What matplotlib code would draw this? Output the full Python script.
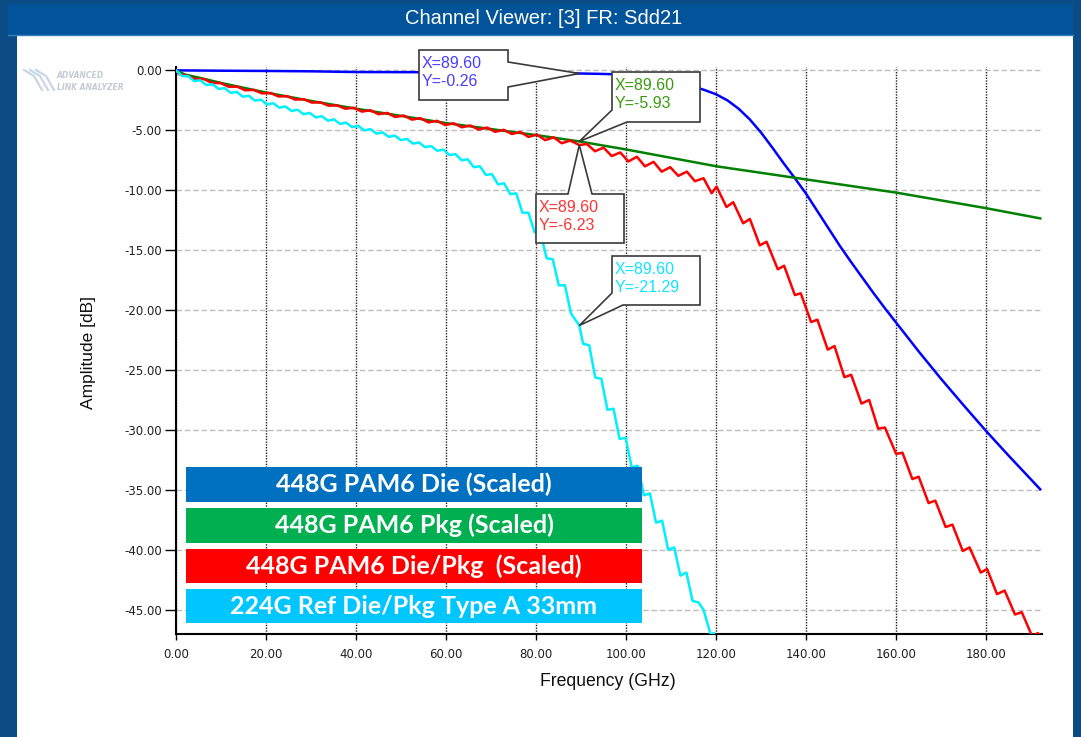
import matplotlib
matplotlib.use('Agg')
import matplotlib.pyplot as plt
from matplotlib.patches import Rectangle, Polygon
from matplotlib.lines import Line2D

W, H = 1081, 737

# Sdd21 magnitude, frequency in GHz, amplitude in dB
die_freq = [0, 10, 20, 30, 40, 50, 60, 70, 80, 89.6, 95, 100, 105, 110, 112.5,
            115, 117.5, 120, 122.5, 125, 127.5, 130, 132.5, 135, 137.5, 140,
            142.5, 145, 147.5, 150, 152.5, 155, 157.5, 160, 165, 170, 175,
            180, 185, 192]
die_db = [0, -0.03, -0.05, -0.08, -0.14, -0.15, -0.16, -0.18, -0.22, -0.26,
          -0.3, -0.36, -0.5, -0.85, -1.1, -1.35, -1.65, -2.0, -2.5, -3.2, -4.1,
          -5.2, -6.45, -7.75, -9.0, -10.3, -11.75, -13.2, -14.65, -16.0, -17.3,
          -18.6, -19.85, -21.05, -23.45, -25.75, -27.95, -30.1, -32.15, -34.95]

pkg_freq = [0, 2, 5, 10, 20, 30, 40, 50, 60, 70, 80, 89.6, 100, 110, 120,
            130, 140, 150, 160, 170, 180, 192]
pkg_db = [0, -0.35, -0.6, -1.05, -1.85, -2.55, -3.2, -3.8, -4.4, -4.9, -5.4,
          -5.93, -6.6, -7.3, -8.0, -8.55, -9.1, -9.65, -10.2, -10.85, -11.5,
          -12.35]

diepkg_freq = [0, 0.6, 2.4, 4.3, 6.2, 8.0, 9.9, 11.7, 13.6, 15.4, 17.3, 19.1,
               21.0, 22.8, 24.7, 26.5, 28.4, 30.2, 32.1, 33.9, 35.8, 37.6,
               39.5, 41.3, 43.2, 45.0, 46.9, 48.7, 50.6, 52.4, 54.3, 56.1,
               58.0, 59.8, 61.7, 63.5, 65.4, 67.2, 69.1, 70.9, 72.8, 74.6,
               76.5, 78.3, 80.2, 82.0, 83.9, 85.7, 87.6, 89.6, 91.3, 93.1,
               95.0, 96.8, 98.7, 100.5, 102.4, 104.2, 106.1, 107.9, 109.8,
               111.6, 113.5, 115.3, 117.2, 119.0, 120.1, 122.3, 123.8, 126.0,
               127.5, 129.7, 131.2, 133.7, 135.1, 137.5, 138.8, 141.1, 142.5,
               144.8, 146.3, 148.5, 150.0, 152.3, 154.0, 156.0, 157.5, 160.0,
               161.4, 163.6, 165.0, 167.2, 168.7, 171.0, 172.5, 174.8, 176.3,
               178.8, 180.2, 182.4, 184.1, 186.4, 187.9, 190.2, 191.5, 192.4]
diepkg_db = [0, -0.3, -0.45, -0.72, -0.73, -1.05, -1.06, -1.37, -1.36, -1.66,
             -1.63, -1.92, -1.89, -2.18, -2.15, -2.44, -2.41, -2.69, -2.67,
             -2.95, -2.92, -3.2, -3.12, -3.44, -3.33, -3.66, -3.55, -3.89,
             -3.77, -4.11, -3.99, -4.34, -4.21, -4.56, -4.42, -4.75, -4.6,
             -4.94, -4.77, -5.13, -4.96, -5.31, -5.14, -5.55, -5.36, -5.82,
             -5.59, -6.08, -5.86, -6.23, -6.15, -6.75, -6.45, -7.15, -6.85,
             -7.6, -7.21, -8.01, -7.63, -8.45, -8.08, -8.8, -8.45, -9.25, -9.0,
             -10.25, -9.7, -11.4, -11.0, -12.76, -12.4, -14.6, -14.3, -16.6,
             -16.3, -18.75, -18.6, -21.0, -20.8, -23.3, -23.0, -25.6, -25.4,
             -27.8, -27.5, -29.9, -29.8, -32.0, -31.9, -34.1, -33.9, -36.1,
             -35.9, -38.1, -37.9, -40.1, -39.8, -41.9, -41.6, -43.7, -43.4,
             -45.4, -45.2, -47.2, -46.95, -47.4]

ref_freq = [0, 1.35, 2.7, 4.05, 5.4, 6.75, 8.1, 9.45, 10.8, 12.15, 13.5,
            14.85, 16.2, 17.55, 18.9, 20.25, 21.6, 22.95, 24.3, 25.65, 27.0,
            28.35, 29.7, 31.05, 32.4, 33.75, 35.1, 36.45, 37.8, 39.15, 40.5,
            41.85, 43.2, 44.55, 45.9, 47.25, 48.6, 49.95, 51.3, 52.65, 54.0,
            55.35, 56.7, 58.05, 59.4, 60.75, 62.1, 63.45, 64.8, 66.15, 67.5,
            68.85, 70.2, 71.55, 72.9, 74.25, 75.6, 76.95, 78.3, 79.65, 81.0,
            82.35, 83.7, 85.05, 86.4, 87.75, 89.6, 90.45, 91.8, 93.15, 94.5,
            95.85, 97.2, 98.55, 99.9, 101.25, 102.6, 103.95, 105.3, 106.65,
            108.0, 109.35, 110.7, 112.05, 113.4, 114.75, 116.1, 117.2, 118.8,
            119.5, 120.5]
ref_db = [0, -0.47, -0.49, -0.89, -0.83, -1.23, -1.15, -1.55, -1.48, -1.88,
          -1.8, -2.2, -2.12, -2.53, -2.45, -2.85, -2.74, -3.12, -3.01, -3.39,
          -3.28, -3.66, -3.55, -3.93, -3.82, -4.2, -4.09, -4.47, -4.36, -4.74,
          -4.63, -5.01, -4.9, -5.28, -5.17, -5.55, -5.44, -5.82, -5.72, -6.11,
          -6.02, -6.41, -6.32, -6.71, -6.61, -7.07, -6.99, -7.5, -7.42, -8.08,
          -8.0, -8.72, -8.66, -9.52, -9.42, -10.33, -10.26, -11.87, -11.88,
          -13.49, -13.6, -15.68, -15.76, -17.94, -17.92, -20.28, -21.29,
          -22.82, -22.93, -25.63, -25.73, -28.32, -28.23, -30.75, -30.66,
          -33.13, -32.99, -35.45, -35.3, -37.74, -37.57, -40.0, -39.8, -42.15,
          -41.9, -44.26, -44.4, -45.0, -47.1, -46.95, -48.5]

marker_freq = 89.6

legend_labels = ['448G PAM6 Die (Scaled)', '448G PAM6 Pkg (Scaled)',
                 '448G PAM6 Die/Pkg  (Scaled)', '224G Ref Die/Pkg Type A 33mm']

x_ticks = [0, 20, 40, 60, 80, 100, 120, 140, 160, 180]
y_ticks = [0, -5, -10, -15, -20, -25, -30, -35, -40, -45]


def fp(x, y):
    # pixel position (origin top-left) -> figure fraction
    return (x / W, 1 - y / H)


fig = plt.figure(figsize=(W / 100, H / 100), dpi=100, facecolor='#0B4C86')

# window chrome, kept behind the axes
fig.add_artist(Rectangle(fp(8, 35), 1065 / W, 31 / H, transform=fig.transFigure,
                         facecolor='#01549A', edgecolor='none', zorder=-5))
fig.add_artist(Line2D([8 / W, 1073 / W], [1 - 35 / H] * 2, transform=fig.transFigure,
                      color='#3C7DBA', lw=1, zorder=-4))
fig.add_artist(Rectangle(fp(17, 737), 1056 / W, 701 / H, transform=fig.transFigure,
                         facecolor='white', edgecolor='none', zorder=-5))
fig.text(544 / W, 1 - 19 / H, 'Channel Viewer: [3] FR: Sdd21', color='white',
         fontsize=14.5, family='Liberation Sans', ha='center', va='center')

# faint logo in the corner
fig.text(57 / W, 1 - 75 / H, 'ADVANCED', color='#C5CAD3', fontsize=5.5,
         style='italic', weight='bold', va='center')
fig.text(57 / W, 1 - 87 / H, 'LINK ANALYZER', color='#C5CAD3', fontsize=5.5,
         style='italic', weight='bold', va='center')
for dx in (0, 6, 12):
    fig.add_artist(Line2D([(24 + dx) / W, (34 + dx) / W, (42 + dx) / W],
                          [1 - 70 / H, 1 - 76 / H, 1 - 90 / H],
                          transform=fig.transFigure, color='#C9D6E6', lw=1.6))

ax = fig.add_axes([176 / W, 1 - 634.3 / H, 866 / W, 567.3 / H])
ax.patch.set_alpha(0)
ax.set_xlim(0, 192.4)
ax.set_ylim(-47.05, 0.28)

ax.plot(die_freq, die_db, color='#0000FF', lw=1.8, zorder=3)
ax.plot(pkg_freq, pkg_db, color='#008000', lw=1.8, zorder=3)
ax.plot(diepkg_freq, diepkg_db, color='#FF0000', lw=1.8, zorder=4)
ax.plot(ref_freq, ref_db, color='#00F0FF', lw=1.8, zorder=5)

ax.set_xticks(x_ticks)
ax.set_xticklabels([f'{v:.2f}' for v in x_ticks])
ax.set_yticks(y_ticks)
ax.set_yticklabels([f'{v:.2f}' for v in y_ticks])
ax.tick_params(axis='y', direction='out', length=8, width=1, labelsize=8.5,
               labelcolor='#202020', pad=2)
ax.tick_params(axis='x', direction='out', length=4, width=1, labelsize=8.5,
               labelcolor='#202020', pad=6)

ax.set_axisbelow(True)
ax.yaxis.grid(True, color='#BDBDBD', linestyle=(0, (4, 2)), lw=1)
ax.xaxis.grid(True, color='#222222', linestyle=(0, (1, 1)), lw=1)
for side in ('top', 'right'):
    ax.spines[side].set_visible(False)
for side in ('left', 'bottom'):
    ax.spines[side].set_linewidth(1.5)

fig.text(608 / W, 1 - 682 / H, 'Frequency (GHz)', fontsize=12.7,
         family='Liberation Sans', ha='center', va='center', color='#101010')
fig.text(89 / W, 1 - 352 / H, 'Amplitude [dB]', fontsize=12.5, rotation=90,
         family='Liberation Sans', ha='center', va='center', color='#101010')


def tip_px(freqs, vals):
    v = vals[freqs.index(marker_freq)]
    X, Y = ax.transData.transform((marker_freq, v))
    return v, (X, H - Y)


# marker callouts: outline before tip, outline after tip, box corner, text colour
callouts = [
    (die_freq, die_db, [(419, 50), (508, 50), (508, 62)], [(508, 87), (508, 100), (419, 100)],
     (419, 50), '#4A3CFF'),
    (pkg_freq, pkg_db, [(612, 110)], [(627, 122), (700, 122), (700, 72), (612, 72)],
     (612, 72), '#3A9A10'),
    (diepkg_freq, diepkg_db, [(536, 194), (568, 194)], [(592, 194), (624, 194), (624, 243), (536, 243)],
     (536, 194), '#FF3333'),
    (ref_freq, ref_db, [(612, 293)], [(623, 305), (700, 305), (700, 256), (612, 256)],
     (612, 256), '#10E4FF'),
]
for freqs, vals, before, after, corner, tcolor in callouts:
    v, tip = tip_px(freqs, vals)
    pts = [fp(*p) for p in before + [tip] + after]
    fig.add_artist(Polygon(pts, closed=True, transform=fig.transFigure,
                           facecolor='white', edgecolor='#3A3A3A', lw=1.2,
                           zorder=10))
    fig.text((corner[0] + 3) / W, 1 - (corner[1] + 14) / H, f'X={marker_freq:.2f}',
             color=tcolor, fontsize=11.5, family='Liberation Sans',
             va='center', zorder=11)
    fig.text((corner[0] + 3) / W, 1 - (corner[1] + 32) / H, f'Y={v:.2f}',
             color=tcolor, fontsize=11.5, family='Liberation Sans',
             va='center', zorder=11)

# colour-keyed legend panel
legend_colors = ['#0070C0', '#00B050', '#FF0000', '#00C6FF']
legend_rows = [(467, 502), (508, 543), (549, 583), (589, 623)]
for label, color, (top, bottom) in zip(legend_labels, legend_colors, legend_rows):
    fig.add_artist(Rectangle(fp(186, bottom), 456 / W, (bottom - top) / H,
                             transform=fig.transFigure, facecolor=color,
                             edgecolor='none', zorder=12))
    fig.text(414 / W, 1 - (top + bottom) / 2 / H, label, color='white',
             fontsize=18, weight='bold', family='Lato', ha='center',
             va='center', zorder=13)

fig.savefig('out.png', dpi=100, facecolor=fig.get_facecolor())
